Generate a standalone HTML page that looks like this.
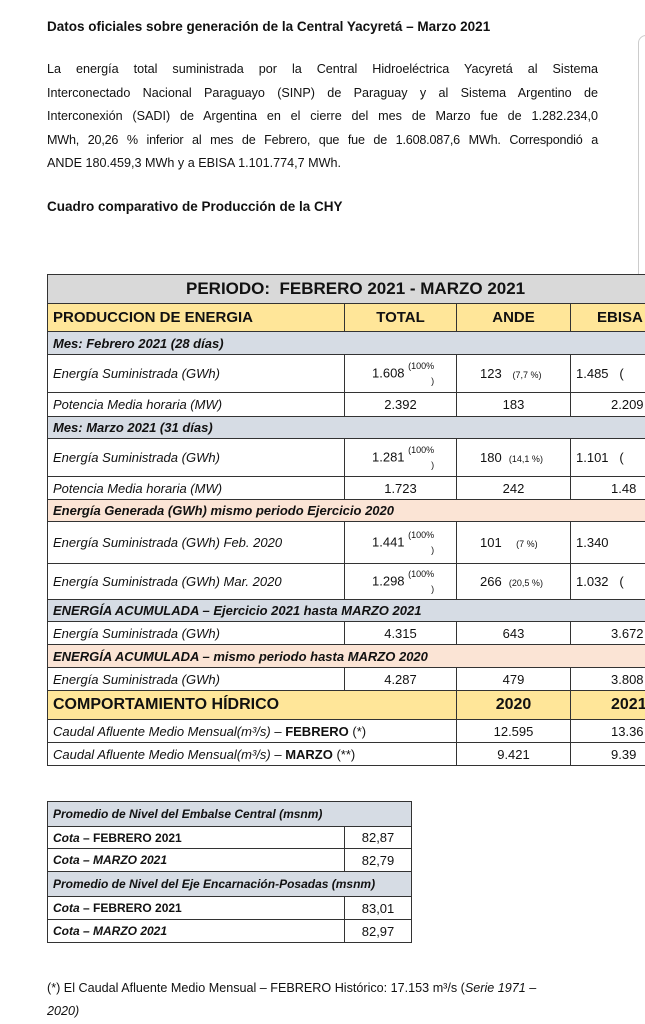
<!DOCTYPE html>
<html><head><meta charset="utf-8"><style>
*{margin:0;padding:0;box-sizing:border-box}
body{width:645px;height:1024px;overflow:hidden;background:#fff;font-family:"Liberation Sans",sans-serif;color:#111;position:relative}
.t{position:absolute;white-space:nowrap}
.p{position:absolute;left:47px;width:551px;font-size:12.6px;line-height:23.5px;top:58px}
.p div{text-align:justify;text-align-last:justify;white-space:nowrap}
.p div.l{text-align-last:left}
table{border-collapse:collapse;position:absolute;table-layout:fixed}
td{border:1px solid #333;font-size:13px;padding:0 5px;white-space:nowrap;overflow:hidden}
.i{font-style:italic}
.c{text-align:center}
.b{font-weight:bold}
.sm{font-size:9px}
.g{background:#d9d9d9}.y{background:#ffe699}.s{background:#d6dce4}.o{background:#fbe4d5}
</style></head><body>
<div class="t b" style="left:47px;top:19px;font-size:13.5px">Datos oficiales sobre generación de la Central Yacyretá – Marzo 2021</div>
<div class="p">
<div>La energía total suministrada por la Central Hidroeléctrica Yacyretá al Sistema</div>
<div>Interconectado Nacional Paraguayo (SINP) de Paraguay y al Sistema Argentino de</div>
<div>Interconexión (SADI) de Argentina en el cierre del mes de Marzo fue de 1.282.234,0</div>
<div style="letter-spacing:-0.2px">MWh, 20,26 % inferior al mes de Febrero, que fue de 1.608.087,6 MWh. Correspondió a</div>
<div class="l">ANDE 180.459,3 MWh y a EBISA 1.101.774,7 MWh.</div>
</div>
<div class="t b" style="left:47px;top:199px;font-size:13.5px">Cuadro comparativo de Producción de la CHY</div>
<div style="position:absolute;left:638px;top:35px;width:20px;height:255px;border:1px solid #ccc;border-radius:8px;background:#fff"></div>

<table style="left:47px;top:274px;width:640px">
<colgroup><col style="width:297px"><col style="width:112px"><col style="width:114px"><col style="width:117px"></colgroup>
<tr style="height:29px" class="g"><td colspan="4" class="b" style="font-size:17px;padding-left:138px">PERIODO:&nbsp; FEBRERO 2021 - MARZO 2021</td></tr>
<tr style="height:28px" class="y b" ><td style="font-size:15px">PRODUCCION DE ENERGIA</td><td class="c" style="font-size:15px">TOTAL</td><td class="c" style="font-size:15px">ANDE</td><td style="font-size:15px;padding-left:26px">EBISA</td></tr>
<tr style="height:23px" class="s"><td colspan="4" class="i b">Mes: Febrero 2021 (28 días)</td></tr>
<tr style="height:38px"><td class="i">Energía Suministrada (GWh)</td><td style="padding-left:27px">1.608 <span class="sm" style="display:inline-block;vertical-align:middle;line-height:15px;text-align:right">(100%<br>)</span></td><td style="padding-left:23px">123 &nbsp;&nbsp;<span class="sm">(7,7 %)</span></td><td>1.485 &nbsp;&nbsp;(</td></tr>
<tr style="height:24px"><td class="i">Potencia Media horaria (MW)</td><td class="c">2.392</td><td class="c">183</td><td style="padding-left:40px">2.209</td></tr>
<tr style="height:22px" class="s"><td colspan="4" class="i b">Mes: Marzo 2021 (31 días)</td></tr>
<tr style="height:38px"><td class="i">Energía Suministrada (GWh)</td><td style="padding-left:27px">1.281 <span class="sm" style="display:inline-block;vertical-align:middle;line-height:15px;text-align:right">(100%<br>)</span></td><td style="padding-left:23px">180 &nbsp;<span class="sm">(14,1 %)</span></td><td>1.101 &nbsp;&nbsp;(</td></tr>
<tr style="height:23px"><td class="i">Potencia Media horaria (MW)</td><td class="c">1.723</td><td class="c">242</td><td style="padding-left:40px">1.48</td></tr>
<tr style="height:22px" class="o"><td colspan="4" class="i b">Energía Generada (GWh) mismo periodo Ejercicio 2020</td></tr>
<tr style="height:42px"><td class="i">Energía Suministrada (GWh) Feb. 2020</td><td style="padding-left:27px">1.441 <span class="sm" style="display:inline-block;vertical-align:middle;line-height:15px;text-align:right">(100%<br>)</span></td><td style="padding-left:23px">101 &nbsp;&nbsp;&nbsp;<span class="sm">(7 %)</span></td><td>1.340</td></tr>
<tr style="height:36px"><td class="i">Energía Suministrada (GWh) Mar. 2020</td><td style="padding-left:27px">1.298 <span class="sm" style="display:inline-block;vertical-align:middle;line-height:15px;text-align:right">(100%<br>)</span></td><td style="padding-left:23px">266 &nbsp;<span class="sm">(20,5 %)</span></td><td>1.032 &nbsp;&nbsp;(</td></tr>
<tr style="height:22px" class="s"><td colspan="4" class="i b">ENERGÍA ACUMULADA – Ejercicio 2021 hasta MARZO 2021</td></tr>
<tr style="height:23px"><td class="i">Energía Suministrada (GWh)</td><td class="c">4.315</td><td class="c">643</td><td style="padding-left:40px">3.672</td></tr>
<tr style="height:23px" class="o"><td colspan="4" class="i b">ENERGÍA ACUMULADA – mismo periodo hasta MARZO 2020</td></tr>
<tr style="height:23px"><td class="i">Energía Suministrada (GWh)</td><td class="c">4.287</td><td class="c">479</td><td style="padding-left:40px">3.808</td></tr>
<tr style="height:29px" class="y b"><td colspan="2" style="font-size:16px">COMPORTAMIENTO HÍDRICO</td><td class="c" style="font-size:16px">2020</td><td style="font-size:16px;padding-left:40px">2021</td></tr>
<tr style="height:23px"><td colspan="2"><span class="i">Caudal Afluente Medio Mensual(m³/s) – </span><b>FEBRERO</b> (*)</td><td class="c">12.595</td><td style="padding-left:40px">13.36</td></tr>
<tr style="height:23px"><td colspan="2"><span class="i">Caudal Afluente Medio Mensual(m³/s) – </span><b>MARZO</b> (**)</td><td class="c">9.421</td><td style="padding-left:40px">9.39</td></tr>
</table>

<table style="left:47px;top:801px;width:364px">
<colgroup><col style="width:297px"><col style="width:67px"></colgroup>
<tr style="height:25px" class="s"><td colspan="2" class="i b" style="font-size:12px">Promedio de Nivel del Embalse Central (msnm)</td></tr>
<tr style="height:22px"><td class="b" style="font-size:12px"><i>Cota</i> – FEBRERO 2021</td><td class="c">82,87</td></tr>
<tr style="height:23px"><td class="b i" style="font-size:12px">Cota – MARZO 2021</td><td class="c">82,79</td></tr>
<tr style="height:25px" class="s"><td colspan="2" class="i b" style="font-size:12px">Promedio de Nivel del Eje Encarnación-Posadas (msnm)</td></tr>
<tr style="height:23px"><td class="b" style="font-size:12px"><i>Cota</i> – FEBRERO 2021</td><td class="c">83,01</td></tr>
<tr style="height:23px"><td class="b i" style="font-size:12px">Cota – MARZO 2021</td><td class="c">82,97</td></tr>
</table>

<div class="t" style="left:47px;top:977px;font-size:12.6px;line-height:23px">(*) El Caudal Afluente Medio Mensual – FEBRERO Histórico: 17.153 m³/s (<i>Serie 1971 –</i><br><i>2020)</i></div>
</body></html>
